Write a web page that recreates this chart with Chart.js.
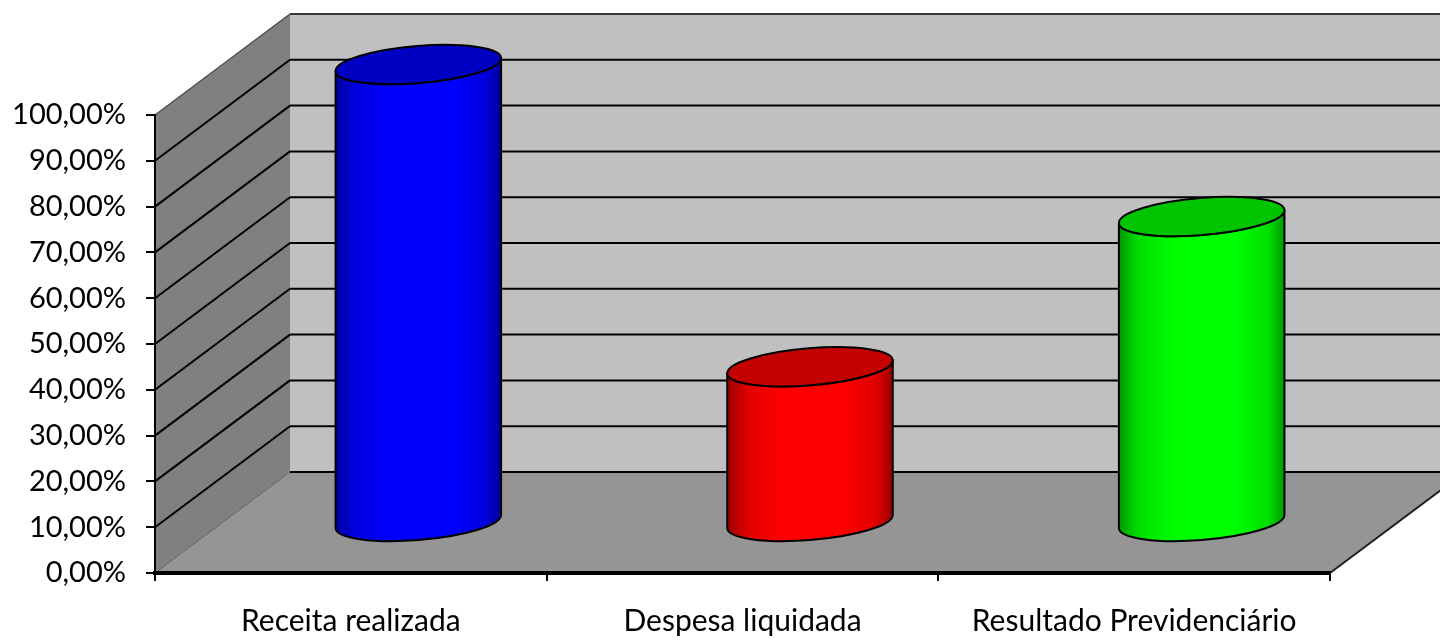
<!DOCTYPE html>
<html>
<head>
<meta charset="utf-8">
<script src="https://cdn.jsdelivr.net/npm/chart.js@4/dist/chart.umd.min.js"></script>
<style>
  html, body { margin: 0; padding: 0; background: #ffffff; }
  #wrap { width: 1440px; height: 640px; position: relative; }
</style>
</head>
<body>
<div id="wrap"><canvas id="c" width="1440" height="640"></canvas></div>
<script>
const categories = ['Receita realizada', 'Despesa liquidada', 'Resultado Previdenciário'];
const values = [100, 34.0, 66.8];
const bodyColors = ['#0000ff', '#ff0000', '#00ff00'];
const topColors = ['#0000c4', '#c40000', '#00c400'];
const edgeColors = ['#000098', '#980000', '#009800'];
const midColors = ['#0000e0', '#e00000', '#00e000'];
const yMin = 0, yMax = 100, yStep = 10;

const DEPTH_X = 135, DEPTH_Y = 101;

function poly(ctx, pts, fill, stroke, lw) {
  ctx.beginPath();
  ctx.moveTo(pts[0][0], pts[0][1]);
  for (let i = 1; i < pts.length; i++) ctx.lineTo(pts[i][0], pts[i][1]);
  ctx.closePath();
  if (fill) { ctx.fillStyle = fill; ctx.fill(); }
  if (stroke) { ctx.strokeStyle = stroke; ctx.lineWidth = lw || 1; ctx.stroke(); }
}
function line(ctx, x1, y1, x2, y2, color, lw) {
  ctx.beginPath(); ctx.moveTo(x1, y1); ctx.lineTo(x2, y2);
  ctx.strokeStyle = color; ctx.lineWidth = lw; ctx.stroke();
}

const threeD = {
  id: 'threeD',
  beforeDraw(chart) {
    const ctx = chart.ctx, a = chart.chartArea, y = chart.scales.y;
    const y0 = y.getPixelForValue(yMin), yT = y.getPixelForValue(yMax);
    const L = a.left, R = a.right;
    ctx.save();
    poly(ctx, [[L + DEPTH_X, y0 - DEPTH_Y], [R + DEPTH_X, y0 - DEPTH_Y], [R + DEPTH_X, yT - DEPTH_Y], [L + DEPTH_X, yT - DEPTH_Y]], '#c0c0c0');
    poly(ctx, [[L, y0], [L + DEPTH_X, y0 - DEPTH_Y], [L + DEPTH_X, yT - DEPTH_Y], [L, yT]], '#808080');
    poly(ctx, [[L, y0], [R, y0], [R + DEPTH_X, y0 - DEPTH_Y], [L + DEPTH_X, y0 - DEPTH_Y]], '#959595');
    y.ticks.forEach(t => {
      const v = t.value;
      const yf = y.getPixelForValue(v);
      if (v === yMax) {
        line(ctx, L + DEPTH_X, yf - DEPTH_Y, R + DEPTH_X, yf - DEPTH_Y, '#3a3a3a', 2);
        line(ctx, L, yf, L + DEPTH_X, yf - DEPTH_Y, '#505050', 1.5);
      } else if (v === yMin) {
        line(ctx, L + DEPTH_X, yf - DEPTH_Y, R + DEPTH_X, yf - DEPTH_Y, '#000000', 2);
        line(ctx, L, yf, L + DEPTH_X, yf - DEPTH_Y, '#606060', 1);
      } else {
        line(ctx, L + DEPTH_X, yf - DEPTH_Y, R + DEPTH_X, yf - DEPTH_Y, '#000000', 2);
        line(ctx, L, yf, L + DEPTH_X, yf - DEPTH_Y, '#000000', 2);
      }
    });
    line(ctx, R, y0, R + DEPTH_X, y0 - DEPTH_Y, '#202020', 2);
    ctx.restore();
  },
  beforeDatasetsDraw(chart) {
    const ctx = chart.ctx;
    const meta = chart.getDatasetMeta(0);
    const rot = -0.082;
    meta.data.forEach((bar, i) => {
      const p = bar.getProps(['x', 'y', 'base', 'width'], true);
      const cx = p.x + DEPTH_X / 2;
      const topY = p.y - DEPTH_Y / 2;
      const botY = p.base - DEPTH_Y / 2;
      const rx = p.width / 2, ry = 18.5;
      const t0 = Math.atan(-ry * Math.tan(rot) / rx);
      ctx.save();
      const g = ctx.createLinearGradient(cx - rx, 0, cx + rx, 0);
      g.addColorStop(0, edgeColors[i]);
      g.addColorStop(0.12, midColors[i]);
      g.addColorStop(0.35, bodyColors[i]);
      g.addColorStop(0.7, bodyColors[i]);
      g.addColorStop(0.9, midColors[i]);
      g.addColorStop(1, edgeColors[i]);
      ctx.beginPath();
      ctx.ellipse(cx, topY, rx, ry, rot, t0, t0 + Math.PI, false);
      ctx.ellipse(cx, botY, rx, ry, rot, t0 + Math.PI, t0, true);
      ctx.closePath();
      ctx.fillStyle = g;
      ctx.fill();
      ctx.strokeStyle = '#000000';
      ctx.lineWidth = 2;
      ctx.lineJoin = 'round';
      ctx.stroke();
      ctx.beginPath();
      ctx.ellipse(cx, topY, rx, ry, rot, 0, Math.PI * 2);
      ctx.fillStyle = topColors[i];
      ctx.fill();
      ctx.stroke();
      ctx.restore();
    });
    return false;
  }
};

const FONT = 'Lato, "Open Sans", sans-serif';

new Chart(document.getElementById('c'), {
  type: 'bar',
  data: {
    labels: categories,
    datasets: [{
      data: values,
      backgroundColor: bodyColors,
      categoryPercentage: 1,
      barPercentage: 0.424
    }]
  },
  options: {
    responsive: false,
    animation: false,
    events: [],
    layout: { padding: { left: 0, top: 115, right: 110, bottom: 0 } },
    plugins: { legend: { display: false }, tooltip: { enabled: false } },
    scales: {
      x: {
        offset: true,
        grid: { drawOnChartArea: false, tickLength: 8, color: '#000000', lineWidth: 2 },
        border: { display: true, color: '#000000', width: 4 },
        ticks: { color: '#000000', font: { family: FONT, size: 30 }, padding: 22, maxRotation: 0, autoSkip: false },
        afterFit: s => { s.height = 67; }
      },
      y: {
        min: yMin, max: yMax,
        grid: { drawOnChartArea: false, tickLength: 9, color: '#000000', lineWidth: 2 },
        border: { display: true, color: '#000000', width: 2 },
        ticks: {
          stepSize: yStep, color: '#000000', font: { family: FONT, size: 29 }, padding: 20,
          callback: v => v.toFixed(2).replace('.', ',') + '%'
        },
        afterFit: s => { s.width = 155; }
      }
    }
  },
  plugins: [threeD]
});
</script>
</body>
</html>
